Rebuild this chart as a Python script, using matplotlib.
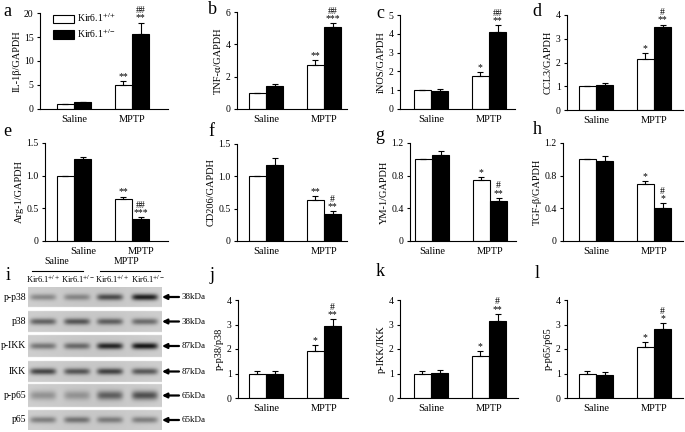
import matplotlib
matplotlib.use("Agg")
import matplotlib.pyplot as plt
import matplotlib.transforms as mtransforms
import numpy as np

plt.rcParams['font.family'] = ['Liberation Serif', 'DejaVu Serif']
plt.rcParams['mathtext.fontset'] = 'stix'

groups = ['Saline', 'MPTP']
legend_labels = ['Kir6.1$^{+/+}$', 'Kir6.1$^{+/-}$']

# panel data: wild type (white) and Kir6.1+/- (black), saline then MPTP
panels = ['a', 'b', 'c', 'd', 'e', 'f', 'g', 'h', 'j', 'k', 'l']
ylabels = ['IL-1\u03b2/GAPDH', 'TNF-\u03b1/GAPDH', 'iNOS/GAPDH', 'CCL3/GAPDH',
           'Arg-1/GAPDH', 'CD206/GAPDH', 'YM-1/GAPDH', 'TGF-\u03b2/GAPDH',
           'p-p38/p38', 'p-IKK/IKK', 'p-p65/p65']
wt_vals = [[1.0, 4.9], [1.0, 2.75], [1.0, 1.75], [1.0, 2.13],
           [1.0, 0.64], [1.0, 0.63], [1.0, 0.75], [1.0, 0.70],
           [1.0, 1.93], [1.0, 1.72], [1.0, 2.08]]
wt_err = [[0, 0.9], [0, 0.3], [0, 0.2], [0, 0.27],
          [0, 0.04], [0, 0.06], [0, 0.03], [0, 0.03],
          [0.1, 0.22], [0.12, 0.2], [0.1, 0.2]]
ko_vals = [[1.4, 15.6], [1.45, 5.1], [0.97, 4.1], [1.07, 3.48],
           [1.25, 0.34], [1.18, 0.42], [1.05, 0.49], [0.98, 0.41],
           [0.98, 2.92], [1.04, 3.13], [0.94, 2.83]]
ko_err = [[0.08, 2.4], [0.12, 0.2], [0.07, 0.35], [0.08, 0.12],
          [0.04, 0.02], [0.11, 0.04], [0.05, 0.04], [0.06, 0.05],
          [0.13, 0.3], [0.12, 0.3], [0.13, 0.22]]
wt_sig = ['**', '**', '*', '*', '**', '**', '*', '*', '*', '*', '*']
ko_sig = ['##\n**', '##\n***', '##\n**', '#\n**', '##\n***', '#\n**',
          '#\n**', '#\n*', '#\n**', '#\n**', '#\n*']
yticks = [[0, 5, 10, 15, 20], [0, 2, 4, 6], [0, 1, 2, 3, 4, 5], [0, 1, 2, 3, 4],
          [0, 0.5, 1.0, 1.5], [0, 0.5, 1.0, 1.5], [0, 0.4, 0.8, 1.2], [0, 0.4, 0.8, 1.2],
          [0, 1, 2, 3, 4], [0, 1, 2, 3, 4], [0, 1, 2, 3, 4]]
yticklabels = [['0', '5', '10', '15', '20'], ['0', '2', '4', '6'],
               ['0', '1', '2', '3', '4', '5'], ['0', '1', '2', '3', '4'],
               ['0', '0.5', '1.0', '1.5'], ['0', '0.5', '1.0', '1.5'],
               ['0', '0.4', '0.8', '1.2'], ['0', '0.4', '0.8', '1.2'],
               ['0', '1', '2', '3', '4'], ['0', '1', '2', '3', '4'], ['0', '1', '2', '3', '4']]

# western blot (panel i): band darkness per lane
blot_rows = ['p-p38', 'p38', 'p-IKK', 'IKK', 'p-p65', 'p65']
blot_kda = ['38kDa', '38kDa', '87kDa', '87kDa', '65kDa', '65kDa']
blot_bands = [[0.35, 0.35, 0.65, 0.9],
              [0.55, 0.6, 0.55, 0.5],
              [0.45, 0.5, 0.85, 0.95],
              [0.7, 0.6, 0.7, 0.6],
              [0.3, 0.28, 0.55, 0.65],
              [0.4, 0.45, 0.4, 0.4]]
lane_labels = ['Kir6.1$^{+/+}$', 'Kir6.1$^{+/-}$', 'Kir6.1$^{+/+}$', 'Kir6.1$^{+/-}$']

W, H = 685, 432
fig = plt.figure(figsize=(W / 100, H / 100), dpi=100)

# pixel layout: y-axis x, saline centre x, right end x, top y, bottom y
layout = [(40, 74, 168, 13, 109), (237, 266, 347, 12, 109), (400, 431, 515, 15, 109),
          (567, 596, 683, 15, 110),
          (45, 74, 168, 143, 241), (237, 266, 347, 144, 241), (410, 432, 516, 143, 241),
          (563, 596, 683, 143, 241),
          (238, 266, 348, 300, 398), (400, 431, 518, 300, 398), (567, 596, 683, 300, 398)]
letter_pos = {'a': (7, 12), 'b': (212, 9), 'c': (380, 13), 'd': (537, 11),
              'e': (7, 132), 'f': (211, 131), 'g': (380, 135), 'h': (537, 129),
              'i': (8, 275), 'j': (212, 275), 'k': (380, 272), 'l': (537, 273)}
unit = 58.0
bw = 0.3

for n, p in enumerate(panels):
    x0, xc, x1, yt, yb = layout[n]
    ax = fig.add_axes([x0 / W, 1 - yb / H, (x1 - x0) / W, (yb - yt) / H])
    xs = np.arange(len(groups))
    ax.bar(xs - bw / 2, wt_vals[n], bw, color='white', edgecolor='black', lw=0.8,
           yerr=[np.zeros(2), wt_err[n]], error_kw=dict(lw=0.8, capsize=2.5, capthick=0.8),
           label=legend_labels[0])
    ax.bar(xs + bw / 2, ko_vals[n], bw, color='black', edgecolor='black', lw=0.8,
           yerr=[np.zeros(2), ko_err[n]], error_kw=dict(lw=0.8, capsize=2.5, capthick=0.8, ecolor='black'),
           label=legend_labels[1])
    ymax = yticks[n][-1]
    ax.annotate(wt_sig[n], (1 - bw / 2, wt_vals[n][1] + wt_err[n][1]), xytext=(0, 0),
                textcoords='offset points', ha='center', va='bottom', fontsize=7)
    ax.annotate(ko_sig[n], (1 + bw / 2, ko_vals[n][1] + ko_err[n][1]), xytext=(0, 0),
                textcoords='offset points', ha='center', va='bottom', fontsize=7,
                linespacing=0.8)
    ax.set_xlim((x0 - xc) / unit, (x1 - xc) / unit)
    ax.set_ylim(0, ymax)
    ax.set_yticks(yticks[n])
    ax.set_yticklabels(yticklabels[n], fontsize=7)
    ax.set_xticks(xs)
    ax.set_xticklabels(groups, fontsize=7.5)
    ax.tick_params(axis='x', length=0, pad=4)
    ax.tick_params(axis='y', length=2.5, width=0.8, pad=2)
    ax.set_ylabel(ylabels[n], fontsize=7.5, labelpad=2)
    for s in ['top', 'right']:
        ax.spines[s].set_visible(False)
    for s in ['left', 'bottom']:
        ax.spines[s].set_linewidth(0.8)
    if p == 'e':
        shift = mtransforms.ScaledTranslation(9 / 100, 0, fig.dpi_scale_trans)
        for lab in ax.get_xticklabels():
            lab.set_transform(lab.get_transform() + shift)
    if p == 'a':
        ax.legend(loc='upper left', bbox_to_anchor=(0.07, 1.06), frameon=False, fontsize=7,
                  handlelength=2.2, handleheight=0.9, handletextpad=0.3, labelspacing=0.3,
                  borderaxespad=0)

# panel letters
for p, (lx, ly) in letter_pos.items():
    fig.text(lx / W, 1 - ly / H, p, fontsize=13, ha='center', va='center')

# panel i, drawn in pixel coordinates
axi = fig.add_axes([0, 0, 215 / W, (H - 255) / H])
axi.set_xlim(0, 215)
axi.set_ylim(H, 255)
axi.axis('off')

strips = [(287, 307), (311, 332), (335, 357), (361, 382), (384, 407), (410, 430)]
lanes = [43, 77, 110, 145]
bx0, bx1, by0, by1 = 28, 162, 287, 430
res = 3
xx = np.linspace(bx0, bx1, (bx1 - bx0) * res)
yy = np.linspace(by0, by1, (by1 - by0) * res)
img = np.ones((len(yy), len(xx)))
for r, (s0, s1) in enumerate(strips):
    rows = (yy >= s0) & (yy <= s1)
    yc = (s0 + s1) / 2
    base = 0.82 - 0.04 * np.exp(-((xx - 95) / 60) ** 2)
    strip = np.tile(base, (rows.sum(), 1))
    yv = yy[rows][:, None]
    thick = 3.2 if r != 4 else 4.5
    for li, lc in enumerate(lanes):
        d = blot_bands[r][li]
        prof = np.exp(-((xx[None, :] - lc) / 13) ** 6) * np.exp(-((yv - yc) / thick) ** 2)
        strip = strip - 0.75 * d * prof
    img[rows] = strip
axi.imshow(img, cmap='gray', vmin=0, vmax=1, extent=(bx0, bx1, by1, by0),
           aspect='auto', interpolation='bilinear')

for r, (s0, s1) in enumerate(strips):
    yc = (s0 + s1) / 2
    axi.text(26, yc, blot_rows[r], ha='right', va='center', fontsize=7)
    axi.annotate('', xy=(162, yc), xytext=(179, yc),
                 arrowprops=dict(arrowstyle='-|>', lw=1.6, color='black', mutation_scale=7,
                                 shrinkA=0, shrinkB=0))
    axi.text(182, yc, blot_kda[r], ha='left', va='center', fontsize=6.5)

axi.text(57, 266, 'Saline', ha='center', va='bottom', fontsize=7)
axi.plot([32, 83], [271, 271], color='black', lw=0.8)
axi.text(126, 266, 'MPTP', ha='center', va='bottom', fontsize=7)
axi.plot([100, 160], [271, 271], color='black', lw=0.8)
for li, lc in enumerate([43, 78, 112, 148]):
    axi.text(lc, 279, lane_labels[li], ha='center', va='center', fontsize=6)

fig.savefig('out.png', dpi=100)
